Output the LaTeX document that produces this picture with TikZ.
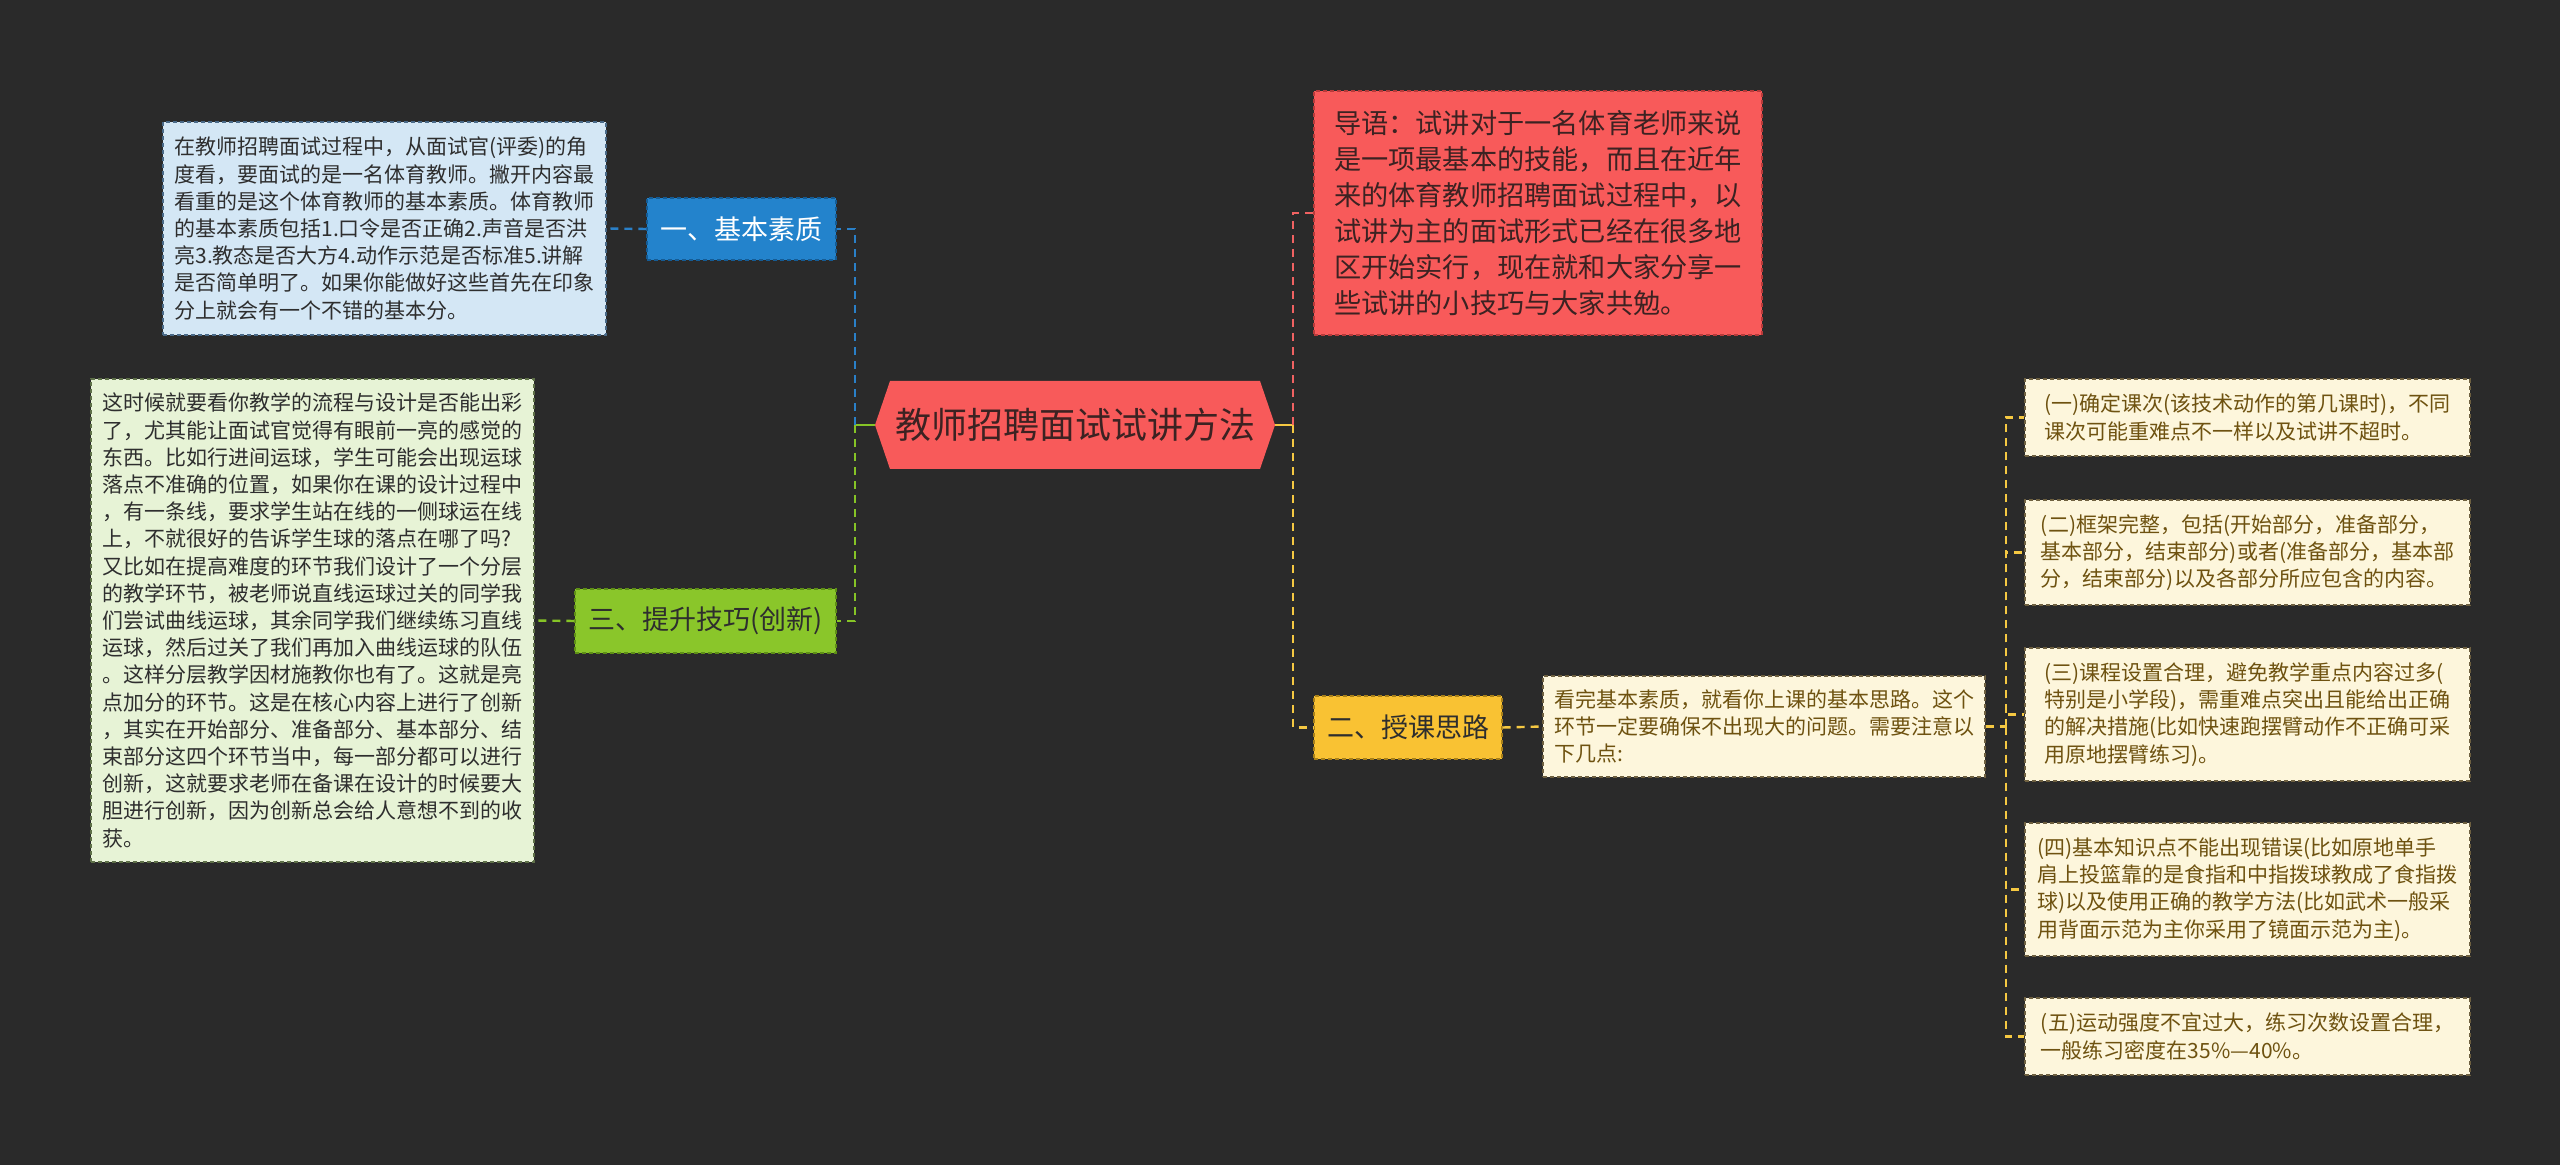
\documentclass[tikz,border=0pt]{standalone}
\usepackage{fontspec}
\setmainfont{Noto Sans CJK SC}
\definecolor{bg}{HTML}{2A2A2A}
\definecolor{bluenode}{HTML}{2383CC}
\definecolor{blueborder}{HTML}{155C95}
\definecolor{bluebox}{HTML}{D4E7F5}
\definecolor{blueboxborder}{HTML}{4A6A88}
\definecolor{rootred}{HTML}{F85A5A}
\definecolor{redborder}{HTML}{B83A3A}
\definecolor{roottext}{HTML}{3C2222}
\definecolor{greennode}{HTML}{8AC62A}
\definecolor{greenborder}{HTML}{5E8F16}
\definecolor{greenbox}{HTML}{E7F3D6}
\definecolor{greenboxborder}{HTML}{5E7048}
\definecolor{yellownode}{HTML}{F9C233}
\definecolor{yellowborder}{HTML}{A8801A}
\definecolor{yellowbox}{HTML}{FDF6DC}
\definecolor{yellowboxborder}{HTML}{6E6040}
\definecolor{yellowtext}{HTML}{6E5210}
\definecolor{darktext}{HTML}{2E2E2E}
\definecolor{linered}{HTML}{F06262}
\definecolor{lineyellow}{HTML}{F5C842}
\definecolor{lineblue}{HTML}{2A80C8}
\definecolor{linegreen}{HTML}{86C426}
\begin{document}
\begin{tikzpicture}[x=0.5pt,y=-0.5pt,
  brd/.style={draw, dash pattern=on 2pt off 1.5pt, line width=0.6pt, inner sep=0pt},
  lvlone/.style={brd, font=\fontsize{13.5pt}{16pt}\selectfont},
  leaf/.style={brd, align=left, font=\fontsize{10.5pt}{13.6pt}\selectfont},
  conn/.style={line width=1.2pt},
  dsh/.style={conn, dash pattern=on 4pt off 3pt}]
\fill[bg] (0,0) rectangle (2560,1165);
\useasboundingbox (0,0) rectangle (2560,1165);

% central hexagon
\fill[rootred] (890,381) -- (1260,381) -- (1275,425) -- (1260,469) -- (890,469) -- (875,425) -- cycle;
\node (root) at (1075,425) [minimum width=200pt, minimum height=44pt, inner sep=0pt,
  font=\fontsize{18pt}{22pt}\selectfont, text=roottext] {教师招聘面试试讲方法};

% level one nodes
\node[lvlone, fill=bluenode, draw=blueborder, text=white, minimum width=94.5pt, minimum height=31pt] (n1) at (741.5,229) {一、基本素质};
\node[lvlone, fill=greennode, draw=greenborder, text=darktext, minimum width=130.5pt, minimum height=32pt] (n3) at (705.5,621) {三、提升技巧(创新)};
\node[lvlone, fill=yellownode, draw=yellowborder, text=darktext, minimum width=94pt, minimum height=31.5pt] (n2) at (1408,727.5) {二、授课思路};
\node[brd, align=left, fill=rootred, draw=redborder, text=roottext, font=\fontsize{13.6pt}{18pt}\selectfont,
  minimum width=224pt, minimum height=122pt] (intro) at (1538,213) {导语：试讲对于一名体育老师来说\\
是一项最基本的技能，而且在近年\\
来的体育教师招聘面试过程中，以\\
试讲为主的面试形式已经在很多地\\
区开始实行，现在就和大家分享一\\
些试讲的小技巧与大家共勉。};

% leaf boxes
\node[leaf, fill=bluebox, draw=blueboxborder, text=darktext, minimum width=221.5pt, minimum height=106.5pt] (boxA) at (384.5,228.5) {在教师招聘面试过程中，从面试官(评委)的角\\
度看，要面试的是一名体育教师。撇开内容最\\
看重的是这个体育教师的基本素质。体育教师\\
的基本素质包括1.口令是否正确2.声音是否洪\\
亮3.教态是否大方4.动作示范是否标准5.讲解\\
是否简单明了。如果你能做好这些首先在印象\\
分上就会有一个不错的基本分。};

\node[leaf, fill=greenbox, draw=greenboxborder, text=darktext, minimum width=221.5pt, minimum height=241.5pt] (boxC) at (312.5,620.5) {这时候就要看你教学的流程与设计是否能出彩\\
了，尤其能让面试官觉得有眼前一亮的感觉的\\
东西。比如行进间运球，学生可能会出现运球\\
落点不准确的位置，如果你在课的设计过程中\\
，有一条线，要求学生站在线的一侧球运在线\\
上，不就很好的告诉学生球的落点在哪了吗?\\
又比如在提高难度的环节我们设计了一个分层\\
的教学环节，被老师说直线运球过关的同学我\\
们尝试曲线运球，其余同学我们继续练习直线\\
运球，然后过关了我们再加入曲线运球的队伍\\
。这样分层教学因材施教你也有了。这就是亮\\
点加分的环节。这是在核心内容上进行了创新\\
，其实在开始部分、准备部分、基本部分、结\\
束部分这四个环节当中，每一部分都可以进行\\
创新，这就要求老师在备课在设计的时候要大\\
胆进行创新，因为创新总会给人意想不到的收\\
获。};

\node[leaf, fill=yellowbox, draw=yellowboxborder, text=yellowtext, minimum width=221pt, minimum height=50.5pt] (boxB) at (1764,726.5) {看完基本素质，就看你上课的基本思路。这个\\
环节一定要确保不出现大的问题。需要注意以\\
下几点:};

\node[leaf, fill=yellowbox, draw=yellowboxborder, text=yellowtext, minimum width=222.5pt, minimum height=38.5pt] (r1) at (2247.5,417.5) {(一)确定课次(该技术动作的第几课时)，不同\\
课次可能重难点不一样以及试讲不超时。};
\node[leaf, fill=yellowbox, draw=yellowboxborder, text=yellowtext, minimum width=222.5pt, minimum height=52.5pt] (r2) at (2247.5,552.5) {(二)框架完整，包括(开始部分，准备部分，\\
基本部分，结束部分)或者(准备部分，基本部\\
分，结束部分)以及各部分所应包含的内容。};
\node[leaf, fill=yellowbox, draw=yellowboxborder, text=yellowtext, minimum width=222.5pt, minimum height=66.5pt] (r3) at (2247.5,714.5) {(三)课程设置合理，避免教学重点内容过多(\\
特别是小学段)，需重难点突出且能给出正确\\
的解决措施(比如快速跑摆臂动作不正确可采\\
用原地摆臂练习)。};
\node[leaf, fill=yellowbox, draw=yellowboxborder, text=yellowtext, minimum width=222.5pt, minimum height=66.5pt] (r4) at (2247.5,889.5) {(四)基本知识点不能出现错误(比如原地单手\\
肩上投篮靠的是食指和中指拨球教成了食指拨\\
球)以及使用正确的教学方法(比如武术一般采\\
用背面示范为主你采用了镜面示范为主)。};
\node[leaf, fill=yellowbox, draw=yellowboxborder, text=yellowtext, minimum width=222.5pt, minimum height=38.5pt] (r5) at (2247.5,1036.5) {(五)运动强度不宜过大，练习次数设置合理，\\
一般练习密度在35\%—40\%。};

% junction coordinates
\coordinate (ls) at (855,425);
\coordinate (rs) at (1293,425);
\coordinate (bs) at (2006,726.5);

% connectors
\draw[conn, linegreen] (root.west) -- (ls);
\draw[dsh, lineblue] (ls) |- (n1.east);
\draw[dsh, linegreen] (ls) |- (n3.east);
\draw[dsh, lineblue] (n1.west) -- (boxA.east);
\draw[dsh, linegreen] (n3.west) -- (boxC.east);

\draw[conn, lineyellow] (root.east) -- (rs);
\draw[dsh, linered] (rs) |- (intro.west);
\draw[dsh, lineyellow] (rs) |- (n2.west);
\draw[dsh, lineyellow] (n2.east) -- (boxB.west);
\draw[dsh, lineyellow] (boxB.east) -- (bs);
\draw[dsh, lineyellow] (bs) |- (r1.west);
\draw[dsh, lineyellow] (bs) |- (r2.west);
\draw[dsh, lineyellow] (bs) |- (r3.west);
\draw[dsh, lineyellow] (bs) |- (r4.west);
\draw[dsh, lineyellow] (bs) |- (r5.west);
\end{tikzpicture}
\end{document}
